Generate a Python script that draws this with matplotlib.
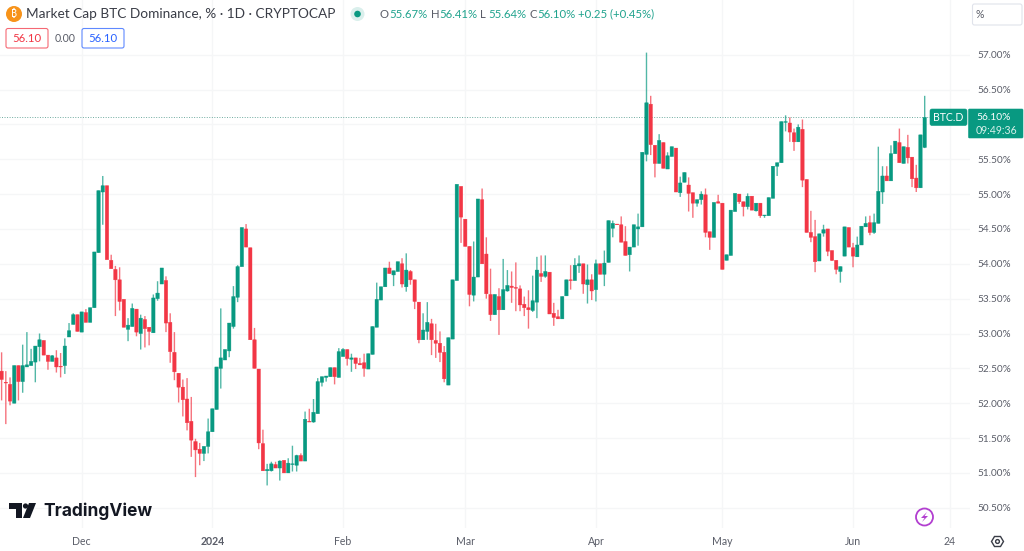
import matplotlib
matplotlib.use("Agg")
import matplotlib.pyplot as plt
import matplotlib.dates as mdates
import pandas as pd
from matplotlib.patches import Circle, FancyBboxPatch, Polygon

plt.rcParams['font.family'] = ['Lato', 'DejaVu Sans']

opens = [52.46,52.30,52.27,52.00,52.54,52.31,52.52,52.54,52.59,52.81,52.90,52.69,52.60,52.65,52.53,52.54,52.95,53.13,53.27,53.02,
53.30,53.16,53.37,54.16,55.03,55.12,54.05,53.92,53.77,53.49,53.06,53.10,53.35,53.00,53.20,53.09,53.01,53.50,53.71,53.76,
53.16,52.73,52.43,52.23,52.06,51.74,51.45,51.34,51.28,51.38,51.59,51.91,52.50,52.62,52.75,53.10,53.52,53.96,54.50,54.23,
52.91,52.49,51.42,51.03,51.03,51.12,51.07,51.18,51.00,51.12,51.11,51.25,51.17,51.74,51.73,51.85,52.30,52.37,52.38,52.51,
52.37,52.67,52.77,52.63,52.65,52.57,52.58,52.49,52.70,53.09,53.48,53.67,53.94,53.84,53.89,54.00,53.67,53.89,53.77,53.45,
52.91,53.03,53.14,52.90,52.86,52.73,52.26,52.92,53.76,55.11,54.64,54.25,53.55,53.81,54.92,54.14,53.56,53.27,53.53,53.34,
53.61,53.68,53.66,53.64,53.42,53.37,53.33,53.45,53.86,53.82,53.88,53.29,53.24,53.21,53.54,53.77,53.76,53.97,54.00,53.70,
53.77,53.63,54.00,53.85,54.02,54.51,54.57,54.56,54.32,54.13,54.24,54.50,54.53,55.57,56.29,55.70,55.44,55.74,55.36,55.54,
55.66,55.02,55.17,55.13,55.02,54.87,54.92,54.99,54.46,54.38,54.89,54.87,54.05,54.12,54.75,55.00,54.89,54.82,54.97,54.76,
54.87,54.69,54.69,54.94,55.40,55.45,56.03,56.02,55.88,55.75,55.93,55.21,54.45,54.39,54.04,54.44,54.50,54.19,54.05,53.89,
54.11,54.52,54.23,54.10,54.27,54.53,54.59,54.45,54.58,55.03,55.26,55.19,55.58,55.74,55.44,55.67,55.53,55.23,55.09,55.67]
highs = [52.73,52.46,52.37,52.54,52.54,52.84,53.02,52.78,52.82,53.00,52.90,52.69,52.69,52.76,52.72,52.93,53.15,53.29,53.27,53.31,
53.35,53.37,54.17,55.05,55.26,55.12,54.13,53.97,53.95,53.49,53.22,53.43,53.35,53.27,53.25,53.09,53.56,53.75,53.94,53.82,
53.29,53.02,52.43,52.34,52.36,52.09,51.49,51.43,51.38,51.78,51.92,52.52,53.36,52.77,53.15,53.68,53.98,54.52,54.57,54.23,
53.08,52.49,51.62,51.13,51.16,51.16,51.18,51.18,51.21,51.39,51.26,51.28,51.88,51.92,52.06,52.36,52.38,52.39,52.51,52.51,
52.79,52.79,52.77,52.71,52.65,52.65,52.71,52.71,53.10,53.73,53.67,53.94,54.03,53.90,54.03,54.08,54.15,53.91,53.77,53.45,
53.29,53.45,53.21,53.14,53.03,52.82,52.94,53.77,55.14,55.11,54.64,54.25,54.32,54.93,55.08,54.38,53.93,53.56,53.65,54.07,
53.91,53.89,54.02,53.69,53.53,53.62,53.83,54.10,54.12,54.12,53.88,53.44,53.34,53.53,53.77,53.98,54.08,54.12,54.00,53.99,
53.85,54.06,54.00,54.19,54.62,54.62,54.57,54.68,54.54,54.24,54.56,54.72,55.60,57.03,56.41,55.70,55.86,55.74,55.60,55.68,
55.66,55.25,55.31,55.24,55.02,54.92,55.04,55.08,54.46,54.88,54.99,54.87,54.13,54.77,55.01,55.00,54.89,55.01,54.97,54.87,
54.87,54.70,54.95,55.40,55.45,56.04,56.13,56.10,55.94,56.00,56.07,55.21,54.76,54.63,54.43,54.56,54.50,54.19,54.05,53.96,
54.53,54.52,54.30,54.39,54.54,54.68,54.69,54.72,55.68,55.40,55.40,55.70,55.76,55.94,55.68,55.85,55.53,55.42,55.85,56.41]
lows = [52.04,51.70,51.97,52.00,52.04,52.15,52.52,52.54,52.30,52.60,52.69,52.48,52.60,52.44,52.37,52.42,52.95,53.13,53.03,53.02,
53.16,53.16,53.37,54.16,54.56,54.06,53.93,53.25,53.33,53.09,52.89,53.10,52.96,52.77,52.80,52.83,53.01,53.47,53.71,53.02,
52.58,52.33,52.01,51.81,51.61,51.23,50.94,51.11,51.17,51.28,51.59,51.91,52.21,52.62,52.66,53.07,53.45,53.96,54.24,52.91,
52.50,51.34,51.03,50.82,51.02,51.07,50.89,51.00,51.00,51.02,51.02,51.17,51.17,51.73,51.72,51.85,52.24,52.31,52.38,52.27,
52.37,52.67,52.54,52.45,52.49,52.55,52.38,52.49,52.70,53.09,53.48,53.67,53.86,53.68,53.89,53.66,53.60,53.70,53.35,52.86,
52.91,52.91,52.69,52.65,52.59,52.30,52.26,52.92,53.76,54.30,54.25,53.39,53.46,53.81,54.00,53.50,53.18,53.27,52.98,53.34,
53.60,53.44,53.32,53.32,53.25,53.07,53.31,53.22,53.74,53.80,53.28,53.11,53.21,53.21,53.54,53.63,53.76,53.87,53.57,53.43,
53.48,53.46,53.85,53.68,54.02,54.38,54.56,54.31,54.12,53.89,54.24,54.26,54.53,55.47,55.56,55.24,55.44,55.37,55.36,55.54,
55.03,54.96,55.17,54.75,54.66,54.82,54.85,54.38,54.20,54.38,54.87,53.92,54.05,54.12,54.75,54.86,54.68,54.78,54.77,54.75,
54.66,54.66,54.69,54.94,55.26,55.45,55.90,55.75,55.62,55.75,55.10,54.45,54.31,53.88,54.04,54.39,54.11,54.04,53.85,53.73,
54.11,54.24,53.95,54.10,54.27,54.53,54.41,54.43,54.58,54.86,55.19,55.19,55.58,55.45,55.44,55.44,55.10,55.03,55.09,55.66]
closes = [52.34,52.29,52.03,52.54,52.31,52.54,52.55,52.60,52.82,52.91,52.69,52.60,52.68,52.52,52.52,52.82,53.04,53.27,53.03,53.31,
53.16,53.37,54.17,55.05,55.12,54.06,53.93,53.77,53.46,53.09,53.12,53.36,53.02,53.22,53.07,53.03,53.51,53.58,53.94,53.15,
52.74,52.45,52.23,52.05,51.72,51.47,51.33,51.28,51.38,51.59,51.92,52.52,52.65,52.77,53.15,53.53,53.96,54.52,54.24,52.91,
52.50,51.43,51.03,51.05,51.13,51.07,51.17,51.00,51.14,51.13,51.25,51.17,51.77,51.73,51.87,52.31,52.38,52.39,52.51,52.38,
52.74,52.77,52.64,52.65,52.57,52.55,52.50,52.71,53.10,53.49,53.67,53.94,53.86,53.90,54.03,53.71,53.91,53.77,53.46,52.91,
53.05,53.16,52.91,52.86,52.73,52.35,52.94,53.77,55.14,54.67,54.25,53.56,53.81,54.93,54.00,53.57,53.27,53.56,53.34,53.63,
53.69,53.66,53.65,53.41,53.37,53.34,53.47,53.91,53.82,53.89,53.28,53.23,53.21,53.53,53.77,53.76,53.98,54.00,53.71,53.77,
53.61,54.00,53.85,54.01,54.62,54.58,54.56,54.31,54.12,54.24,54.56,54.53,55.60,56.31,55.71,55.44,55.77,55.37,55.55,55.68,
55.03,55.16,55.31,55.01,54.87,54.92,55.00,54.45,54.38,54.88,54.87,53.92,54.13,54.77,55.01,54.89,54.82,54.97,54.77,54.87,
54.69,54.70,54.95,55.40,55.45,56.04,56.04,55.89,55.75,55.96,55.20,54.45,54.38,54.03,54.43,54.49,54.18,54.05,53.92,53.96,
54.53,54.24,54.11,54.27,54.54,54.58,54.45,54.59,55.04,55.26,55.19,55.58,55.76,55.45,55.68,55.52,55.22,55.09,55.85,56.10]

first_date = "2023-11-12"
price_ticks = [50.5,51.0,51.5,52.0,52.5,53.0,53.5,54.0,54.5,55.0,55.5,56.0,56.5,57.0]
hidden_price_label = 56.0   # covered by the last-price tag in the chart
time_ticks = ["2023-12-01","2024-01-01","2024-02-01","2024-03-01","2024-04-01","2024-05-01","2024-06-01","2024-06-24"]
time_labels = ["Dec","2024","Feb","Mar","Apr","May","Jun","24"]
last_price = 56.10

GREEN, RED = "#089981", "#F23645"
W, H = 1024, 551
dates = mdates.date2num(pd.date_range(first_date, periods=len(opens)))

fig = plt.figure(figsize=(W/100, H/100), dpi=100, facecolor="white")
ax = fig.add_axes([0, (H-528)/H, 970/W, 528/H])
ax.set_xlim(dates[0]-1.6/4.215, dates[0]+(970-1.6)/4.215)
ax.set_ylim(57-(528-54.7)/69.7, 57+54.7/69.7)
for s in ax.spines.values():
    s.set_visible(False)

ax.set_axisbelow(True)
ax.grid(True, color="#f5f6f7", lw=1)
ax.yaxis.tick_right()
ax.set_yticks(price_ticks, ["" if p == hidden_price_label else f"{p:.2f}%" for p in price_ticks])
ax.set_xticks(mdates.date2num(pd.to_datetime(time_ticks)), time_labels, va="center")
ax.tick_params(axis="both", length=0, labelcolor="#5a5d68", labelsize=7.2)
ax.tick_params(axis="y", pad=5)
ax.tick_params(axis="x", pad=9.4, labelsize=7.6)
for lab in ax.get_xticklabels():
    if lab.get_text() == "2024":
        lab.set_fontweight("bold")

colors = [GREEN if c >= o else RED for o, c in zip(opens, closes)]
wicks = ax.vlines(dates, lows, highs, colors=colors, lw=1, alpha=0.7, zorder=2)
wicks.set_snap(False)
bars = ax.bar(dates, [abs(c-o) for o, c in zip(opens, closes)], bottom=[min(o, c) for o, c in zip(opens, closes)],
              width=3.4/4.215, color=colors, lw=0.3, edgecolor=colors, zorder=3)
for b in bars:
    b.set_snap(False)
ax.plot([dates[0]-2, dates[-1]+1.5], [last_price]*2, color="#3f8f80", lw=0.7, ls=(0, (1, 1.6)), alpha=0.75, zorder=1)

# overlay in pixel space for the interface furniture
ov = fig.add_axes([0, 0, 1, 1], facecolor="none")
ov.set_xlim(0, W); ov.set_ylim(H, 0); ov.axis("off")

DARK = "#3a3d47"
GREY = "#5a5d68"
ov.add_patch(Circle((14, 14), 8, color="#F7931A", lw=0))
ov.text(14, 14.5, "₿", color="white", fontsize=7.5, ha="center", va="center", fontweight="bold",
        family=["Noto Sans", "Roboto", "Open Sans", "Inter", "Liberation Sans", "DejaVu Sans"])
ov.text(26, 14, "Market Cap BTC Dominance, % · 1D · CRYPTOCAP", color=DARK, fontsize=9.8, va="center", ha="left")
ov.add_patch(Circle((357.5, 14), 7, color=GREEN, alpha=0.15, lw=0))
ov.add_patch(Circle((357.5, 14), 3.3, color=GREEN, lw=0))

for letter, lx, vx, value in [("O", 380, 389, "55.67%"), ("H", 431, 439, "56.41%"), ("L", 480, 488, "55.64%"), ("C", 529, 537, "56.10%")]:
    ov.text(lx, 14, letter, color=GREY, fontsize=8.2, va="center")
    ov.text(vx, 14, value, color=GREEN, fontsize=8.2, va="center", alpha=0.9)
ov.text(578, 14, "+0.25 (+0.45%)", color=GREEN, fontsize=8.2, va="center", alpha=0.9)

for x0, w, txt, col in [(6, 42, "56.10", "#F23645"), (82, 42, "56.10", "#2962FF")]:
    ov.add_patch(FancyBboxPatch((x0, 28.5), w, 19.5, boxstyle="round,pad=0,rounding_size=2", fc="white", ec=col, lw=0.8, alpha=0.75))
    ov.text(x0+w/2, 39, txt, color=col, fontsize=8.2, ha="center", va="center")
ov.text(65, 39, "0.00", color=GREY, fontsize=7.6, ha="center", va="center")

ov.add_patch(FancyBboxPatch((972.5, 4), 49.5, 21, boxstyle="round,pad=0,rounding_size=2", fc="white", ec="#e0e3eb", lw=0.8))
ov.text(975.5, 15, "%", color=GREY, fontsize=7.6, va="center")

# last price tags
ov.add_patch(FancyBboxPatch((930, 109), 37, 16.5, boxstyle="round,pad=0,rounding_size=2", fc=GREEN, ec=GREEN, lw=0.4))
ov.text(948.5, 117.5, "BTC.D", color="white", fontsize=7.6, ha="center", va="center")
ov.add_patch(FancyBboxPatch((968.5, 109), 54.5, 29, boxstyle="round,pad=0,rounding_size=1", fc=GREEN, ec=GREEN, lw=0.4))
ov.text(976, 117.5, f"{last_price:.2f}%", color="white", fontsize=7.4, va="center")
ov.text(976, 131, "09:49:36", color="#d7f0ea", fontsize=7.6, va="center")

# TradingView logo
LOGO = "#131722"
ov.add_patch(Polygon([(9, 503), (22, 503), (22, 518), (16, 518), (16, 509), (9, 509)], color=LOGO, lw=0))
ov.add_patch(Circle((25.5, 506), 2.6, color=LOGO, lw=0))
ov.add_patch(Polygon([(29, 503), (36, 503), (30, 518), (23, 518)], color=LOGO, lw=0))
ov.text(43, 511, "TradingView", color=LOGO, fontsize=12.5, va="center", fontweight="bold", family="Inter")

# lightning badge
ov.add_patch(Circle((924.5, 517), 8.5, fc="white", ec="#B23FD0", lw=1.3))
ov.add_patch(Polygon([(927, 512), (921, 518), (924.5, 518), (922, 522), (928, 516), (924.5, 516)], color="#B23FD0", lw=0))

# settings hexagon
ov.add_patch(Polygon([(991.5, 541.5), (994.5, 536.5), (1000.5, 536.5), (1003.5, 541.5), (1000.5, 546.5), (994.5, 546.5)],
                     fc="none", ec=DARK, lw=1))
ov.add_patch(Circle((997.5, 541.5), 1.9, fc="none", ec=DARK, lw=1))

fig.savefig("out.png", dpi=100, facecolor="white")
